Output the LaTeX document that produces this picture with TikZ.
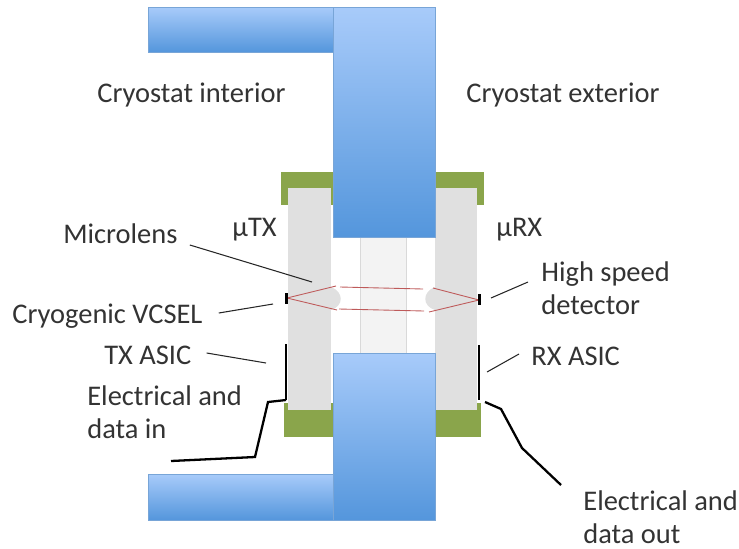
\documentclass[tikz,border=0pt]{standalone}
\usepackage{fontspec}
\setmainfont{Carlito}
\definecolor{flangetop}{RGB}{168,203,250}
\definecolor{flangebot}{RGB}{84,150,220}
\definecolor{flangeedge}{RGB}{120,165,215}
\definecolor{bracket}{RGB}{138,165,75}
\definecolor{column}{RGB}{224,224,224}
\definecolor{window}{RGB}{243,243,243}
\definecolor{beamred}{RGB}{190,90,90}
\tikzset{
  textlabel/.style={inner sep=0pt,font=\fontsize{16.2}{19}\selectfont,text=black!80,align=left,anchor=west},
  leader/.style={black!85,line width=0.6pt},
  wire/.style={black,line width=1.3pt},
  pad/.style={black,line width=1.5pt},
  beam/.style={beamred,line width=0.5pt},
  flange/.style={draw=flangeedge,line width=0.3pt,top color=flangetop,bottom color=flangebot}
}
\begin{document}
\begin{tikzpicture}[x=0.02cm,y=-0.02cm]
\useasboundingbox (0,0) rectangle (739,548);
\fill [window] (360,237) rectangle (406,353);
\draw [black!15,line width=0.4pt] (360,237) -- (360,353) (406,237) -- (406,353);
\fill [bracket] (281,172) rectangle (333,205);
\fill [bracket] (435,172) rectangle (484,205);
\fill [bracket] (284,403) rectangle (333,437);
\fill [bracket] (435,403) rectangle (481,437);
\fill [column] (288,188) rectangle (331,410);
\fill [column] (435,188) rectangle (477,410);
\fill [column] (331,287) .. controls (344,292) and (344,306) .. (331,310) -- cycle;
\fill [column] (435,287) .. controls (422,292) and (422,306) .. (435,310) -- cycle;
\shade [flange] (148,7) rectangle (333,52);
\shade [flange] (148,474) rectangle (333,520);
\shade [flange] (333,7) rectangle (435,237);
\shade [flange] (333,353) rectangle (435,520);
\draw [beam] (287,298) -- (336,286) (287,298) -- (337,310);
\draw [beam] (340,287) -- (423,289) (339,309) -- (424,311);
\draw [beam] (479,300) -- (433,288) (479,300) -- (429,312);
\fill [black] (285,293) rectangle (288,304);
\fill [black] (478,294) rectangle (481,305);
\draw [pad] (286,344) -- (286,400);
\draw [pad] (479,345) -- (479,400);
\draw [wire] (286,400) -- (268,402) -- (255,457) -- (171,461);
\draw [wire] (485,402) -- (501,409) -- (522,448) -- (561,485);
\node [textlabel] (interior) at (97,95) {Cryostat interior};
\node [textlabel] (exterior) at (466,95) {Cryostat exterior};
\node [textlabel] (utx) at (232,230) {µTX};
\node [textlabel] (urx) at (496,230) {µRX};
\node [textlabel] (microlens) at (63,234) {Microlens};
\node [textlabel] (vcsel) at (12,316) {Cryogenic VCSEL};
\node [textlabel] (txasic) at (104,355) {TX ASIC};
\node [textlabel] (elecin) at (87,412) {Electrical and\\data in};
\node [textlabel] (detector) at (541,288) {High speed\\detector};
\node [textlabel] (rxasic) at (531,356) {RX ASIC};
\node [textlabel] (elecout) at (583,517) {Electrical and\\data out};
\coordinate (lensend) at (312,282);
\coordinate (vcselend) at (273,304);
\coordinate (txend) at (266,363);
\coordinate (rxend) at (487,372);
\coordinate (detend) at (491,298);
\draw [leader] ([shift={(12,11)}]microlens.east) -- (lensend);
\draw [leader] ([shift={(16,-3)}]vcsel.east) -- (vcselend);
\draw [leader] ([shift={(15,-2)}]txasic.east) -- (txend);
\draw [leader] ([shift={(-12,-2)}]rxasic.west) -- (rxend);
\draw [leader] ([shift={(-13,-6)}]detector.west) -- (detend);
\end{tikzpicture}
\end{document}
